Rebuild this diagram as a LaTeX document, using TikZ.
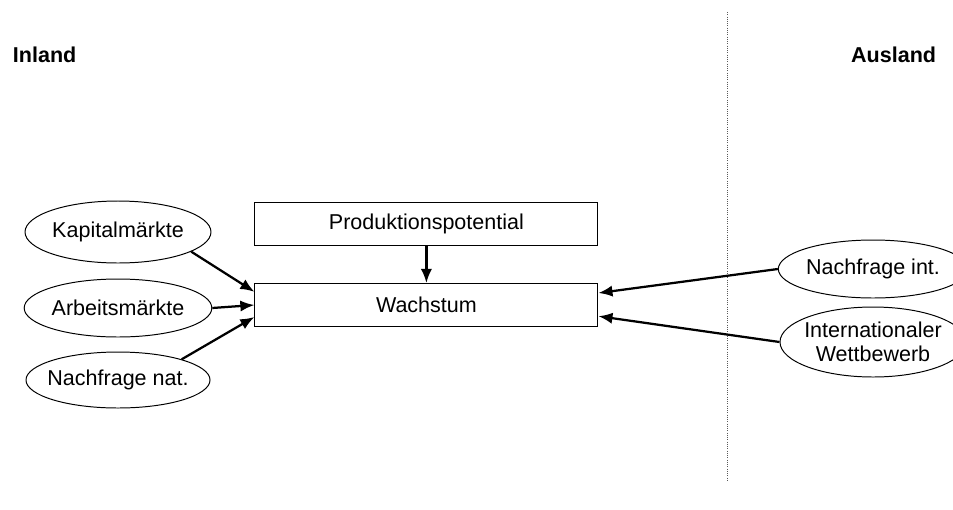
\documentclass[tikz,border=0pt]{standalone}
\usepackage{fontspec}
\setmainfont{Liberation Sans}
\usetikzlibrary{shapes.geometric,arrows.meta,calc}
\begin{document}
\begin{tikzpicture}[
                font=\fontsize{15.3}{17.5}\selectfont,
                factor/.style={draw, ellipse, line width=0.7pt, minimum width=4.6cm, inner sep=0pt, align=center},
                target/.style={draw, rectangle, line width=0.7pt, minimum width=8.575cm, minimum height=1.075cm, inner sep=0pt},
                effect/.style={-{Latex[length=10pt,width=8pt]}, line width=1.6pt},
                side/.style={font=\fontsize{15.3}{17.5}\selectfont\bfseries}
            ]
                \useasboundingbox (0,0) rectangle (23.825,-12.725);

                \node[side, anchor=west] (inland) at (0.2,-1.375) {Inland};
                \node[side, anchor=east] (ausland) at (23.525,-1.375) {Ausland};
                \coordinate (grenzeoben) at (18.175,-0.3);
                \coordinate (grenzeunten) at (18.175,-12.05);
                \draw[densely dotted, black!65, line width=0.6pt] (grenzeoben) to (grenzeunten);

                \node[target] (potential) at (10.66,-5.59) {Produktionspotential};
                \node[target] (wachstum) at (10.66,-7.625) {Wachstum};

                \node[factor, minimum height=1.55cm] (kapital) at (2.95,-5.8) {Kapitalmärkte};
                \node[factor, minimum height=1.45cm] (arbeit) at (2.95,-7.7) {Arbeitsmärkte};
                \node[factor, minimum height=1.4cm, inner xsep=-0.22cm] (nachnat) at (2.95,-9.5) {Nachfrage nat.};
                \node[factor, minimum width=4.65cm, minimum height=1.45cm] (nachint) at (21.825,-6.725) {Nachfrage int.};
                \node[factor, minimum width=4.65cm, minimum height=1.75cm, inner xsep=-0.1cm] (wettbewerb) at (21.825,-8.55) {Internationaler\\Wettbewerb};

                \draw[effect] (potential) to (wachstum);
                \draw[effect] (kapital.-15) to ($(wachstum.west)+(0,0.33)$);
                \draw[effect] (arbeit.east) to (wachstum.west);
                \draw[effect] (nachnat.18) to ($(wachstum.west)+(0,-0.3)$);
                \draw[effect] (nachint.west) to ($(wachstum.east)+(0,0.3)$);
                \draw[effect] (wettbewerb.west) to ($(wachstum.east)+(0,-0.28)$);
            \end{tikzpicture}
\end{document}
